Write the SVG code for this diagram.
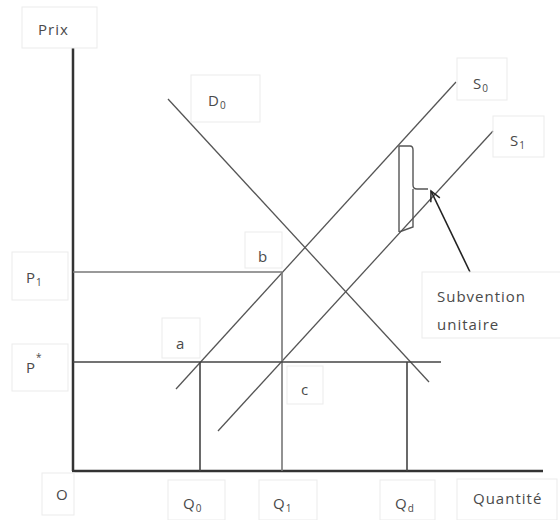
<svg xmlns="http://www.w3.org/2000/svg" width="560" height="520" viewBox="0 0 560 520">
<style>
  .lbl { font-family: "Open Sans", "Liberation Sans", sans-serif; font-size: 15px; fill: #4a4a4a; letter-spacing: 1px; }
  .sub { font-size: 10px; letter-spacing: 0; }
  .box { fill: none; stroke: #ebebeb; stroke-width: 1; }
  .axis { stroke: #333; stroke-width: 2.5; fill: none; }
  .curve { stroke: #555; stroke-width: 1.3; fill: none; }
  .guide { stroke: #444; stroke-width: 1.6; fill: none; }
  .guide2 { stroke: #777; stroke-width: 1.6; fill: none; }
</style>
<defs>
  <marker id="arr" markerUnits="userSpaceOnUse" markerWidth="14" markerHeight="14" viewBox="-12 -7 14 14" refX="0" refY="0" orient="auto">
    <path d="M-10,-5 L0,0 L-10,5" fill="none" stroke="#222" stroke-width="1.5"/>
  </marker>
</defs>
<rect width="560" height="520" fill="#fff"/>

<g id="connectors">
  <path id="y-axis" class="axis" d="M73,48 L73,471"/>
  <path id="x-axis" class="axis" d="M72,471 L543,471"/>
  <path id="D0-curve" class="curve" d="M168,99 L429,382"/>
  <path id="S0-curve" class="curve" d="M176,389 L456,82"/>
  <path id="S1-curve" class="curve" d="M218,431 L493,131"/>
  <path id="P1-line" class="guide2" d="M73,272 L282,272"/>
  <path id="Q1-line" class="guide2" d="M282,272 L282,471"/>
  <path id="Pstar-line" class="guide" d="M73,362 L441,362"/>
  <path id="Q0-line" class="guide" d="M200,362 L200,471"/>
  <path id="Qd-line" class="guide" d="M407,362 L407,471"/>
  <path id="brace" d="M399,146 L399,232 M399,146 L410,146 Q413,146 413,150 L413,185 Q413,189 417,189 L428,189 M413,189 L413,227 L399,232" fill="none" stroke="#555" stroke-width="1.4"/>
  <path id="arrow" d="M470,272 L431,191" fill="none" stroke="#222" stroke-width="1.6" marker-end="url(#arr)"/>
</g>

<g id="node-prix"><rect class="box" x="22" y="7" width="75" height="41"/><text class="lbl" x="38" y="35">Prix</text></g>
<g id="node-D0"><rect class="box" x="191" y="75" width="69" height="47"/><text class="lbl" x="208" y="106">D<tspan class="sub" dy="3">0</tspan></text></g>
<g id="node-S0"><rect class="box" x="457" y="58" width="50" height="42"/><text class="lbl" x="473" y="89">S<tspan class="sub" dy="3">0</tspan></text></g>
<g id="node-S1"><rect class="box" x="493" y="116" width="51" height="41"/><text class="lbl" x="510" y="146">S<tspan class="sub" dy="3">1</tspan></text></g>
<g id="node-P1"><rect class="box" x="12" y="252" width="56" height="48"/><text class="lbl" x="26" y="283">P<tspan class="sub" dy="3">1</tspan></text></g>
<g id="node-Pstar"><rect class="box" x="12" y="344" width="56" height="47"/><text class="lbl" x="26" y="373">P<tspan class="sub" dy="-12">*</tspan></text></g>
<g id="node-a"><rect class="box" x="162" y="318" width="38" height="40"/><text class="lbl" x="176" y="349">a</text></g>
<g id="node-b"><rect class="box" x="245" y="232" width="37" height="36"/><text class="lbl" x="258" y="262">b</text></g>
<g id="node-c"><rect class="box" x="287" y="366" width="36" height="38"/><text class="lbl" x="301" y="395">c</text></g>
<g id="node-O"><rect class="box" x="42" y="473" width="32" height="42"/><text class="lbl" x="56" y="500">O</text></g>
<g id="node-Q0"><rect class="box" x="168" y="480" width="57" height="40"/><text class="lbl" x="183" y="509">Q<tspan class="sub" dy="3">0</tspan></text></g>
<g id="node-Q1"><rect class="box" x="259" y="480" width="58" height="40"/><text class="lbl" x="273" y="509">Q<tspan class="sub" dy="3">1</tspan></text></g>
<g id="node-Qd"><rect class="box" x="380" y="480" width="55" height="40"/><text class="lbl" x="395" y="509">Q<tspan class="sub" dy="3">d</tspan></text></g>
<g id="node-quantite"><rect class="box" x="457" y="479" width="100" height="41"/><text class="lbl" x="473" y="504">Quantité</text></g>
<g id="node-subvention"><rect class="box" x="422" y="272" width="140" height="66"/><text class="lbl" x="437" y="302">Subvention</text><text class="lbl" x="437" y="330">unitaire</text></g>
</svg>
